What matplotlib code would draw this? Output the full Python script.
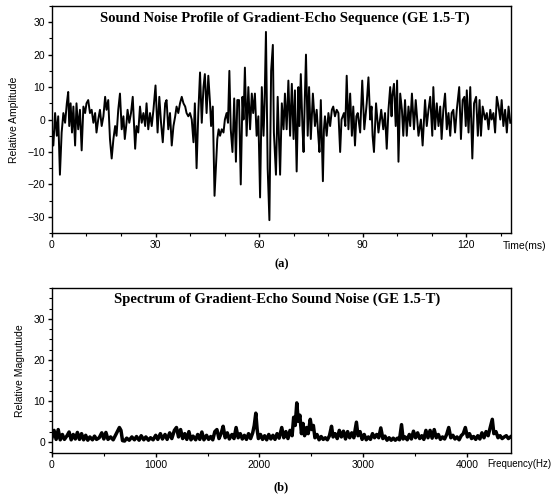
import numpy as np
import matplotlib
matplotlib.use("Agg")
import matplotlib.pyplot as plt
from matplotlib.ticker import MultipleLocator

# Sinal temporal (tempo em ms, amplitude relativa)
tempo_ms = [
    0.0, 0.4, 0.9, 1.4, 1.8, 2.3, 2.8, 3.3, 3.8, 4.3, 4.7, 5.0, 5.4, 5.8, 6.2, 6.7,
    7.1, 7.6, 8.1, 8.6, 9.1, 9.6, 10.0, 10.5, 11.0, 11.5, 12.0, 12.5, 12.9, 13.4,
    13.9, 14.4, 14.9, 15.4, 15.8, 16.3, 16.8, 17.3, 17.8, 18.3, 18.7, 19.2, 19.7,
    20.2, 20.7, 21.1, 21.6, 21.9, 22.4, 22.9, 23.4, 23.7, 24.1, 24.5, 25.0, 25.5,
    26.0, 26.5, 27.0, 27.4, 27.9, 28.4, 28.9, 29.4, 30.0, 30.6, 31.1, 31.6, 32.1,
    32.8, 33.2, 33.7, 34.2, 34.7, 35.2, 35.7, 36.1, 36.6, 37.1, 37.6, 38.1, 38.6,
    39.0, 39.5, 40.0, 40.5, 41.0, 41.4, 41.9, 42.4, 42.9, 43.4, 43.9, 44.3, 44.8,
    45.3, 45.8, 46.1, 46.6, 47.1, 47.5, 47.9, 48.3, 48.7, 49.2, 49.7, 50.1, 50.6,
    51.0, 51.4, 51.8, 52.3, 52.8, 53.3, 53.7, 54.2, 54.7, 55.2, 55.5, 55.9, 56.4,
    56.9, 57.4, 57.9, 58.3, 58.8, 59.3, 59.8, 60.3, 60.8, 61.3, 61.6, 62.0, 62.5,
    63.0, 63.5, 64.0, 64.3, 64.9, 65.4, 66.1, 66.6, 67.1, 67.5, 68.0, 68.5, 69.0,
    69.5, 70.0, 70.4, 70.9, 71.4, 71.7, 72.1, 72.6, 72.9, 73.2, 73.6, 74.1, 74.5,
    75.0, 75.6, 76.2, 76.7, 77.1, 77.5, 77.9, 78.5, 78.8, 79.1, 79.6, 80.1, 80.6,
    81.1, 81.5, 82.0, 82.5, 83.0, 83.5, 83.9, 84.6, 85.0, 85.4, 85.9, 86.4, 86.9,
    87.3, 87.8, 88.2, 88.6, 89.3, 89.9, 90.5, 91.2, 91.7, 92.2, 92.6, 92.9, 93.3,
    93.9, 94.6, 95.4, 96.0, 96.5, 97.0, 97.5, 98.0, 98.4, 98.6, 99.1, 99.6, 100.0,
    100.4, 100.9, 101.4, 101.8, 102.3, 102.8, 103.3, 103.8, 104.3, 104.9, 105.4,
    106.2, 106.9, 107.4, 108.1, 108.6, 109.1, 109.6, 110.2, 110.5, 111.0, 111.5,
    112.0, 112.5, 112.9, 113.4, 113.9, 114.4, 114.9, 115.4, 115.8, 116.3, 116.8,
    117.3, 118.0, 118.5, 119.0, 119.5, 119.9, 120.2, 120.7, 121.2, 121.8, 122.3,
    122.9, 123.4, 123.9, 124.3, 124.8, 125.5, 126.0, 126.5, 127.0, 127.4, 127.9,
    128.4, 128.9, 129.4, 129.9, 130.3, 130.8, 131.3, 131.8, 132.3, 132.8,
]
amplitude = [
    -3, -8, 2, -5, 1, -17, -4, 2, -1, 5, 8.5, -2, 5, -4, 4, -8,
    5, -3, 3, -9.5, 4, 2, 5, 6, 2, 3, -1, 2, -4, 0,
    3, -2, 1, 7, 3, 6, -6, -12, -6, -2, -5, 3, 8,
    -3, 1, -6, -1, 3, -1, 2, 7, 0, -9, -2, -4, 4,
    -1, 2, -2, 5, -3, 2, -2, 3, 10.5, -4, 7, -1, -7,
    5, 6, -3, 2, -8, -2, 1, 4, 2, 5, 7, 5, 4,
    2, 1, 2, 0, -7, 5, -15, 2, 14.5, -1, 10, 14, 2,
    13.5, 5, -2, 4, -23.5, -15, -6, -3, -5, -3, -4, 0, 2,
    -1, 15, -3, -10, 6.5, -13, 6, 6, -20, 7, 0, 16, -5,
    10, -3, 8, 2, 8, -5, 1, -24, 10, -5, 5, 27, -15,
    -31, 15, 23, -4, -17, 7, -17, 5, -3, 8, -3, 12, -5,
    11, -6, 9, -16, 10, -2, 14, -3, -10, 4, 20, -5, 10,
    -6, 8, -2, 3, -4, -10, 6, -19, -3, 1, -5, 2, -2,
    3, 4, 1, 3, 2, -10, 0, 2, -2, 13.5, -3, 8, -5,
    4, -8, 1, 2, -4, 12, -3, 5, 13, 0, 4, -5, -10,
    5, -4, 3, -3, 2, -9, 3, 10, 1, 7, 11, -2, 12,
    -13, 8, 3, -5, 6, -5, 4, -2, 8, -3, 6,
    -5, 0, -8, 6, -2, 3, 7, -5, 10, -3, 5,
    -2, 4, -6, 3, 8, -3, 2, -5, 2, 3, -4,
    3, 10, -6, 6, 7, -2, 9, -4, 10, -12, 5,
    7, -5, 6, -5, 4, 0, 2, -3, 3, 0, 2,
    -4, 7, 4, 0, 6, -2, 3, -4, 4, -1,
]

# Espectro (frequência em Hz, magnitude relativa)
freq_hz = [
    0, 20, 40, 60, 80, 100, 120, 145, 165, 185, 205, 225, 245, 265, 285, 305,
    325, 345, 365, 390, 410, 430, 455, 480, 500, 520, 540, 565, 590, 610, 630,
    650, 665, 680, 700, 720, 745, 770, 795, 815, 840, 860, 885, 905, 930, 950,
    975, 1000, 1020, 1045, 1065, 1090, 1110, 1135, 1155, 1180, 1200, 1220, 1240,
    1260, 1280, 1300, 1320, 1340, 1360, 1385, 1405, 1425, 1445, 1465, 1490, 1510,
    1530, 1550, 1570, 1590, 1610, 1630, 1650, 1670, 1690, 1710, 1735, 1755, 1775,
    1795, 1815, 1835, 1855, 1875, 1895, 1915, 1935, 1950, 1965, 1978, 1990, 2010,
    2030, 2050, 2070, 2090, 2110, 2130, 2150, 2170, 2190, 2215, 2235, 2255, 2275,
    2295, 2315, 2330, 2345, 2360, 2375, 2390, 2405, 2420, 2435, 2455, 2470, 2490,
    2505, 2520, 2535, 2555, 2575, 2595, 2615, 2635, 2655, 2675, 2695, 2710, 2730,
    2750, 2770, 2790, 2810, 2830, 2850, 2870, 2890, 2910, 2935, 2950, 2970, 2990,
    3010, 3030, 3050, 3070, 3090, 3110, 3130, 3150, 3170, 3190, 3210, 3230, 3250,
    3270, 3290, 3310, 3330, 3350, 3370, 3385, 3405, 3425, 3445, 3465, 3485, 3505,
    3525, 3545, 3565, 3585, 3605, 3625, 3645, 3665, 3685, 3705, 3725, 3745, 3765,
    3785, 3805, 3825, 3845, 3865, 3885, 3905, 3925, 3945, 3965, 3985, 4005, 4025,
    4045, 4065, 4085, 4105, 4125, 4145, 4165, 4185, 4205, 4225, 4245, 4260, 4280,
    4300, 4320, 4340, 4360, 4380, 4400, 4420,
]
magnitude = [
    1.0, 2.8, 0.6, 3.0, 0.5, 1.8, 0.6, 1.5, 2.4, 0.5, 1.8, 0.7, 2.3, 0.6, 2.0, 0.5,
    1.6, 0.4, 1.2, 0.5, 1.4, 0.6, 1.0, 2.2, 0.7, 2.3, 0.6, 1.2, 0.5, 1.5, 2.5,
    3.5, 2.8, 0.3, 0.2, 0.9, 0.4, 1.2, 0.5, 1.3, 0.4, 1.5, 0.5, 1.2, 0.4, 1.0,
    0.5, 1.6, 0.6, 2.0, 0.7, 1.8, 0.6, 2.2, 0.8, 2.8, 3.5, 1.2, 3.0,
    0.8, 2.0, 0.6, 2.5, 0.5, 1.4, 0.5, 1.8, 0.6, 2.4, 0.5, 1.6, 0.6,
    1.3, 0.5, 2.5, 3.0, 0.8, 2.0, 3.8, 1.0, 2.2, 0.7, 1.8, 0.8, 3.5,
    1.0, 2.0, 0.7, 1.6, 0.6, 2.0, 0.8, 2.2, 4.0, 7.0, 3.0, 0.8, 1.8,
    0.6, 1.5, 0.5, 1.8, 0.7, 1.6, 0.6, 2.0, 0.9, 3.5, 1.0, 2.5, 0.8,
    2.8, 1.5, 6.0, 4.0, 9.5, 5.0, 6.5, 2.0, 4.5, 1.5, 3.5, 2.0, 5.5,
    3.0, 4.0, 1.0, 1.8, 0.5, 1.3, 0.6, 1.0, 0.5, 1.5, 3.8, 1.2, 2.0,
    0.8, 2.8, 1.2, 2.6, 0.7, 2.5, 1.0, 2.2, 1.0, 4.8, 1.5, 2.5, 0.6,
    1.8, 0.5, 1.2, 0.6, 2.0, 1.0, 1.8, 1.0, 3.4, 0.8, 1.4, 0.4, 1.0,
    0.4, 0.9, 0.4, 0.9, 0.5, 4.2, 0.7, 1.2, 0.5, 1.8, 0.7, 2.6, 1.0,
    2.2, 0.8, 1.5, 0.6, 2.8, 1.0, 2.8, 0.9, 3.0, 1.0, 1.8, 0.6, 1.2,
    0.7, 1.8, 3.5, 1.0, 1.6, 0.7, 1.2, 0.5, 1.5, 2.0, 3.5, 1.2, 2.0,
    0.8, 1.3, 0.6, 1.5, 0.7, 2.2, 1.0, 2.5, 1.5, 3.5, 5.5, 2.0, 2.5,
    1.0, 1.5, 0.8, 1.2, 1.5, 0.8, 1.2,
]

fonte_titulo = dict(family="Liberation Serif", fontweight="bold", fontsize=10.5)
fonte_eixo = dict(family="Liberation Sans", fontsize=7.5)

fig = plt.figure(figsize=(5.53, 4.95), dpi=100)

# Painel (a): perfil temporal
ax1 = fig.add_axes([0.094, 0.529, 0.830, 0.459])
ax1.plot(tempo_ms, amplitude, color="black", linewidth=1.4)
ax1.set_xlim(0, 133)
ax1.set_ylim(-35, 35)
ax1.set_xticks([0, 30, 60, 90, 120])
ax1.set_yticks([-30, -20, -10, 0, 10, 20, 30])
ax1.xaxis.set_minor_locator(MultipleLocator(10))
ax1.yaxis.set_minor_locator(MultipleLocator(5))
ax1.text(0.508, 0.945, "Sound Noise Profile of Gradient-Echo Sequence (GE 1.5-T)",
         transform=ax1.transAxes, ha="center", va="center", **fonte_titulo)
ax1.set_ylabel("Relative Amplitude", labelpad=6, **fonte_eixo)
ax1.text(1.03, -0.055, "Time(ms)", transform=ax1.transAxes, ha="center", va="center", **fonte_eixo)
ax1.text(0.5, -0.135, "(a)", transform=ax1.transAxes, ha="center", va="center",
         family="Liberation Serif", fontweight="bold", fontsize=9)

# Painel (b): espectro
ax2 = fig.add_axes([0.094, 0.085, 0.830, 0.333])
ax2.plot(freq_hz, magnitude, color="black", linewidth=2.5)
ax2.set_xlim(0, 4425)
ax2.set_ylim(-2.7, 37.5)
ax2.set_xticks([0, 1000, 2000, 3000, 4000])
ax2.set_yticks([0, 10, 20, 30])
ax2.xaxis.set_minor_locator(MultipleLocator(500))
ax2.yaxis.set_minor_locator(MultipleLocator(2.5))
ax2.text(0.49, 0.935, "Spectrum of Gradient-Echo Sound Noise (GE 1.5-T)",
         transform=ax2.transAxes, ha="center", va="center", **fonte_titulo)
ax2.set_ylabel("Relative Magnutude", labelpad=6, **fonte_eixo)
fig.text(0.997, 0.063, "Frequency(Hz)", ha="right", va="center",
         family="Liberation Sans", fontsize=7)
ax2.text(0.5, -0.21, "(b)", transform=ax2.transAxes, ha="center", va="center",
         family="Liberation Serif", fontweight="bold", fontsize=9)

for ax in (ax1, ax2):
    for s in ax.spines.values():
        s.set_linewidth(1.0)
    ax.tick_params(which="major", direction="out", length=3, width=1, pad=2, labelsize=7.5)
    ax.tick_params(which="minor", direction="out", length=2, width=0.8)
    for lab in ax.get_xticklabels() + ax.get_yticklabels():
        lab.set_family("Liberation Sans")

plt.savefig("out.png", dpi=100)
